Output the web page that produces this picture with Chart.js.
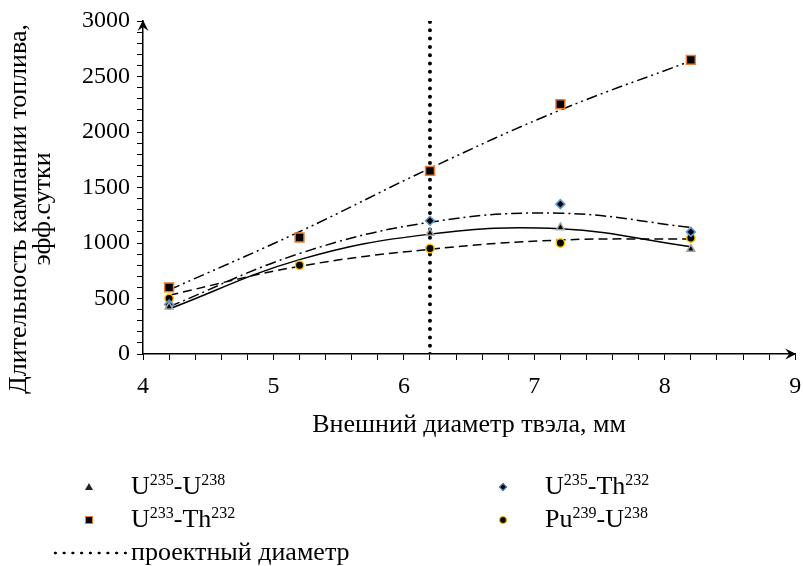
<!DOCTYPE html>
<html>
<head>
<meta charset="utf-8">
<script src="https://cdn.jsdelivr.net/npm/chart.js@4.4.1/dist/chart.umd.min.js"></script>
<style>
  html, body { margin: 0; padding: 0; background: #fff; }
  #wrap { position: relative; width: 803px; height: 566px; }
  #legend { position: absolute; left: 0; top: 0; width: 803px; height: 566px; pointer-events: none;
            font-family: 'Liberation Serif', 'Times New Roman', serif; font-size: 26px; color: #000; }
  .item { position: absolute; height: 30px; line-height: 30px; white-space: nowrap; }
  .item sup { font-size: 16px; vertical-align: 0; position: relative; top: -9px; }
  .mk { position: absolute; box-sizing: border-box; }
  .dots { position: absolute; height: 6px;
          background-image: radial-gradient(circle, #000 1.2px, transparent 1.7px);
          background-size: 8.75px 6px; background-position: 0 0; }
</style>
</head>
<body>
<div id="wrap">
  <canvas id="chart" width="803" height="566"></canvas>
  <div id="legend"></div>
</div>
<script>
// diameters, mm
const diameters = [4.2, 5.2, 6.2, 7.2, 8.2];

// campaign length, eff. days (null = no marker in the picture)
const u235u238 = [425, null, 1090, 1140, 945];
const u235th232 = [445, null, 1200, 1350, 1100];
const u233th232 = [600, 1050, 1650, 2250, 2650];
const pu239u238 = [500, 800, 950, 1000, 1045];

// trend lines at the same diameters
const trendU235U238 = [405, 850, 1080, 1128, 967];
const trendU235Th232 = [426, 905, 1187, 1268, 1141];
const trendU233Th232 = [577, 1102, 1673, 2198, 2640];
const trendPu239U238 = [530, 790, 943, 1027, 1036];

const designDiameter = 6.2;
const designRange = [0, 3000];

const xTicks = [4, 5, 6, 7, 8, 9];
const yTicks = [0, 500, 1000, 1500, 2000, 2500, 3000];

const yTitle = ['Длительность кампании топлива,', 'эфф.сутки'];

const toPts = arr => diameters.map((d, i) => ({ x: d, y: arr[i] }));

const serif = 'Liberation Serif';

// arrows at the ends of both axes, y title drawn by hand (it sits a bit lower than centre)
const axisExtras = {
    id: 'axisExtras',
    afterDraw(chart) {
        const { ctx, chartArea: a } = chart;
        const head = (x, y, ang) => {
            ctx.save();
            ctx.translate(x, y);
            ctx.rotate(ang);
            ctx.beginPath();
            ctx.moveTo(0, 0);
            ctx.lineTo(-11, -5.5);
            ctx.lineTo(-7, 0);
            ctx.lineTo(-11, 5.5);
            ctx.closePath();
            ctx.fillStyle = '#000';
            ctx.fill();
            ctx.restore();
        };
        head(a.left, a.top - 1, -Math.PI / 2);
        head(a.right + 1, a.bottom, 0);

        ctx.save();
        ctx.translate(0, 209);
        ctx.rotate(-Math.PI / 2);
        ctx.font = '26px "' + serif + '"';
        ctx.fillStyle = '#000';
        ctx.textAlign = 'center';
        ctx.textBaseline = 'middle';
        ctx.fillText(yTitle[0], 0, 19);
        ctx.fillText(yTitle[1], 0, 43);
        ctx.restore();
    }
};

const ctx = document.getElementById('chart').getContext('2d');

const trend = (data, dash, order) => ({
    data: toPts(data),
    showLine: true,
    borderColor: '#000',
    borderWidth: 1.5,
    borderDash: dash,
    pointRadius: 0,
    tension: 0.4,
    fill: false,
    order: order,
});

const markers = (data, style, radius, border, order) => ({
    data: toPts(data),
    showLine: false,
    pointStyle: style,
    pointRadius: radius,
    pointBackgroundColor: '#000',
    pointBorderColor: border,
    pointBorderWidth: 1.5,
    order: order,
});

const myChart = new Chart(ctx, {
    type: 'scatter',
    data: {
        datasets: [
            markers(u235u238, 'triangle', 4.5, '#a5a5a5', 1),
            markers(u235th232, 'rectRot', 4.5, '#5b9bd5', 1),
            markers(u233th232, 'rect', 6.3, '#ed7d31', 1),
            markers(pu239u238, 'circle', 4.2, '#ffc000', 1),
            trend(trendU235U238, [], 2),
            trend(trendU235Th232, [11, 4, 2, 4], 2),
            trend(trendU233Th232, [11, 4, 2, 4, 2, 4], 2),
            trend(trendPu239U238, [9, 5], 2),
            {
                data: designRange.map(v => ({ x: designDiameter, y: v })),
                showLine: true,
                borderColor: '#000',
                borderWidth: 4,
                borderDash: [0, 8.3],
                borderCapStyle: 'round',
                pointRadius: 0,
                order: 3,
            },
        ],
    },
    options: {
        responsive: false,
        animation: false,
        layout: { padding: { left: 0, right: 6, top: 21, bottom: 116 } },
        plugins: { legend: { display: false }, tooltip: { enabled: false } },
        scales: {
            x: {
                type: 'linear',
                min: xTicks[0],
                max: xTicks[xTicks.length - 1],
                afterBuildTicks: s => {
                    const t = [];
                    for (let i = 0; i <= 25; i++) t.push({ value: +(4 + i * 0.2).toFixed(1) });
                    s.ticks = t;
                },
                ticks: {
                    autoSkip: false,
                    maxRotation: 0,
                    padding: 12,
                    color: '#000',
                    font: { family: serif, size: 24 },
                    callback: v => xTicks.includes(v) ? String(v) : '',
                },
                grid: { drawOnChartArea: false, drawTicks: true, tickLength: 6, color: '#000', lineWidth: 1 },
                border: { display: true, color: '#000', width: 1.5 },
                title: {
                    display: true,
                    text: 'Внешний диаметр твэла, мм',
                    color: '#000',
                    font: { family: serif, size: 26 },
                    padding: { top: 0, bottom: 9 },
                },
                afterFit: s => { s.height = 96; s.paddingLeft = 0; s.paddingRight = 0; },
            },
            y: {
                min: yTicks[0],
                max: yTicks[yTicks.length - 1],
                afterBuildTicks: s => {
                    const t = [];
                    for (let v = 0; v <= 3000; v += 100) t.push({ value: v });
                    s.ticks = t;
                },
                ticks: {
                    autoSkip: false,
                    padding: 7,
                    color: '#000',
                    font: { family: serif, size: 24 },
                    callback: v => yTicks.includes(v) ? String(v) : '',
                },
                grid: { drawOnChartArea: false, drawTicks: true, tickLength: 6, color: '#000', lineWidth: 1 },
                border: { display: true, color: '#000', width: 1.5 },
                title: { display: false },
                afterFit: s => { s.width = 143; s.paddingTop = 0; s.paddingBottom = 0; },
            },
        },
    },
    plugins: [axisExtras],
});

// legend below the plot, with real superscripts
const legendItems = [
    { name: 'U<sup>235</sup>-U<sup>238</sup>', mark: 'tri', x: 89, y: 487 },
    { name: 'U<sup>235</sup>-Th<sup>232</sup>', mark: 'dia', x: 503, y: 487 },
    { name: 'U<sup>233</sup>-Th<sup>232</sup>', mark: 'sq', x: 89, y: 520 },
    { name: 'Pu<sup>239</sup>-U<sup>238</sup>', mark: 'dot', x: 503, y: 520 },
];
const legend = document.getElementById('legend');
legendItems.forEach(it => {
    const m = document.createElement('div');
    m.className = 'mk';
    if (it.mark === 'tri') {
        m.style.cssText = `left:${it.x - 4}px;top:${it.y - 4}px;width:0;height:0;` +
            'border-left:4px solid transparent;border-right:4px solid transparent;border-bottom:7px solid #222;';
    } else if (it.mark === 'sq') {
        m.style.cssText = `left:${it.x - 4}px;top:${it.y - 4}px;width:8px;height:8px;background:#000;border:1.5px solid #ed7d31;`;
    } else if (it.mark === 'dia') {
        m.style.cssText = `left:${it.x - 3}px;top:${it.y - 3}px;width:6px;height:6px;background:#000;border:1.5px solid #5b9bd5;transform:rotate(45deg);`;
    } else {
        m.style.cssText = `left:${it.x - 4}px;top:${it.y - 4}px;width:8px;height:8px;background:#000;border:1.5px solid #ffc000;border-radius:50%;`;
    }
    legend.appendChild(m);
    const t = document.createElement('div');
    t.className = 'item';
    t.style.left = (it.x + 42) + 'px';
    t.style.top = (it.y - 16) + 'px';
    t.innerHTML = it.name;
    legend.appendChild(t);
});
const d = document.createElement('div');
d.className = 'dots';
d.style.cssText = 'left:51px;top:550px;width:76px;';
legend.appendChild(d);
const dt = document.createElement('div');
dt.className = 'item';
dt.style.left = '131px';
dt.style.top = '537px';
dt.textContent = 'проектный диаметр';
legend.appendChild(dt);
</script>
</body>
</html>
